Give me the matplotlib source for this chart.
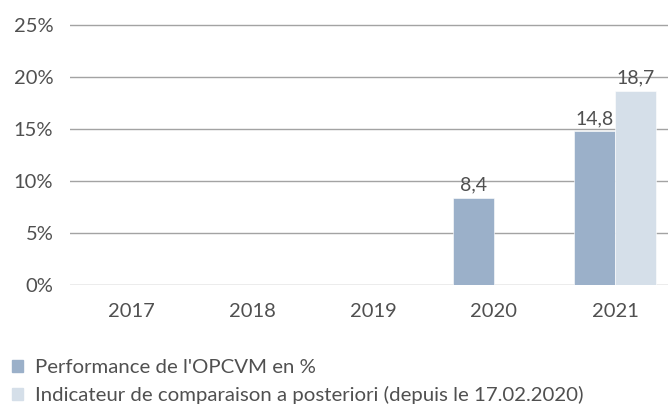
import numpy as np
import matplotlib
matplotlib.use("Agg")
import matplotlib.pyplot as plt
from matplotlib.patches import Patch

plt.rcParams['font.family'] = ['Lato', 'DejaVu Sans']

# data
years = ['2017', '2018', '2019', '2020', '2021']
perf_fonds = [np.nan, np.nan, np.nan, 8.4, 14.8]
perf_indic = [np.nan, np.nan, np.nan, np.nan, 18.7]
yticks = [0, 5, 10, 15, 20, 25]
labels = ["Performance de l'OPCVM en %",
          "Indicateur de comparaison a posteriori (depuis le 17.02.2020)"]

c_fonds = '#9bb0c9'
c_indic = '#d5dfe9'
c_text = '#505050'
c_grid = '#a3a3a3'

W, H = 668, 405
fig = plt.figure(figsize=(W / 100, H / 100), dpi=100)
ax = fig.add_axes([70 / W, 120 / H, 1 - 70 / W, 262 / H])

x = np.arange(len(years))
bw = 0.34
b1 = ax.bar(x - bw / 2, perf_fonds, bw, color=c_fonds, zorder=3,
            edgecolor='white', linewidth=0.4)
b2 = ax.bar(x + bw / 2, perf_indic, bw, color=c_indic, zorder=3,
            edgecolor='white', linewidth=0.4)

def fmt(v):
    return f"{v:.1f}".replace('.', ',')

for bars, vals in [(b1, perf_fonds), (b2, perf_indic)]:
    for r, v in zip(bars, vals):
        if np.isnan(v):
            continue
        ax.annotate(fmt(v), (r.get_x() + r.get_width() / 2, v),
                    xytext=(0, 3), textcoords='offset points',
                    ha='center', va='bottom', fontsize=14, color=c_text)

ax.set_xlim(-0.504, 4.438)
ax.set_ylim(0, 25.2)
ax.set_yticks(yticks)
ax.set_yticklabels([f"{t}%" for t in yticks])
ax.set_xticks(x)
ax.set_xticklabels(years)
ax.tick_params(axis='both', length=0, labelsize=14.5, colors=c_text)
ax.tick_params(axis='y', pad=12)
ax.tick_params(axis='x', pad=13)
ax.grid(axis='y', color=c_grid, linewidth=1.0, zorder=0)
for s in ax.spines.values():
    s.set_visible(False)

handles = [Patch(color=c_fonds), Patch(color=c_indic)]
fig.legend(handles, labels, loc='upper left', bbox_to_anchor=(12 / W, 1 - 359 / H),
           frameon=False, fontsize=14.7, handlelength=0.54, handleheight=0.54,
           handletextpad=0.6, labelspacing=0.5, borderpad=0, borderaxespad=0,
           labelcolor=c_text)

fig.savefig('out.png', dpi=100)
